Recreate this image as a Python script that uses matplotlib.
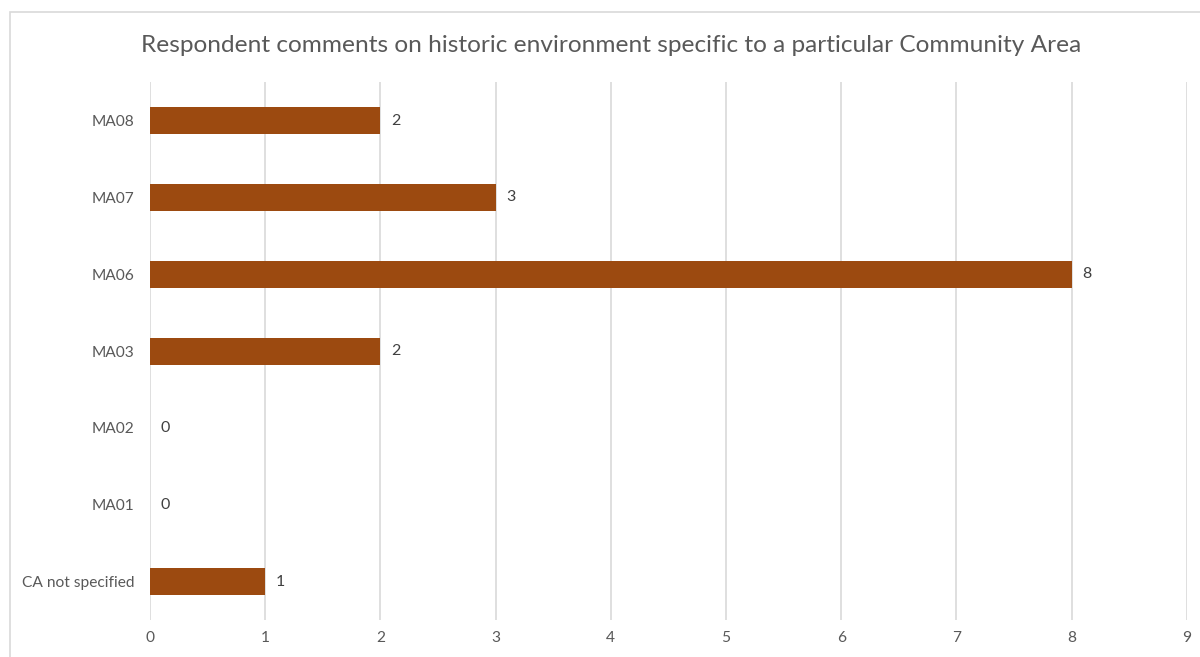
import matplotlib.pyplot as plt
from matplotlib.patches import Rectangle

plt.rcParams['font.family'] = ['Lato', 'DejaVu Sans']

areas = ['CA not specified', 'MA01', 'MA02', 'MA03', 'MA06', 'MA07', 'MA08']
comments = [1, 0, 0, 2, 8, 3, 2]

fig = plt.figure(figsize=(12, 6.57), dpi=100)
ax = fig.add_axes([0.125, 0.0563, 0.864, 0.8187])

# chart area border
fig.patches.append(Rectangle((10 / 1200, -0.01), 1.02, 1 - 12 / 657 + 0.01,
                             transform=fig.transFigure, fill=False,
                             edgecolor='#d9d9d9', linewidth=1.2))

pos = range(len(areas))
ax.barh(pos, comments, height=0.35, color='#9c4a10', zorder=3)
for p, v in zip(pos, comments):
    ax.text(v + 0.09, p, str(v), va='center', ha='left', fontsize=11.5, color='#404040')

ax.set_xlim(0, 9)
ax.set_ylim(-0.5, len(areas) - 0.5)
ax.set_xticks(range(10))
ax.set_yticks(list(pos))
ax.set_yticklabels(areas)
ax.tick_params(axis='both', length=0, labelsize=11.2, labelcolor='#595959')
ax.tick_params(axis='x', pad=8)
ax.tick_params(axis='y', pad=11)
ax.grid(axis='x', color='#d9d9d9', linewidth=1.2, zorder=0)
for s in ax.spines.values():
    s.set_visible(False)

fig.text(0.509, 1 - 45 / 657, 'Respondent comments on historic environment specific to a particular Community Area',
         ha='center', va='center', fontsize=17.6, color='#595959')

fig.savefig('out.png', dpi=100)
